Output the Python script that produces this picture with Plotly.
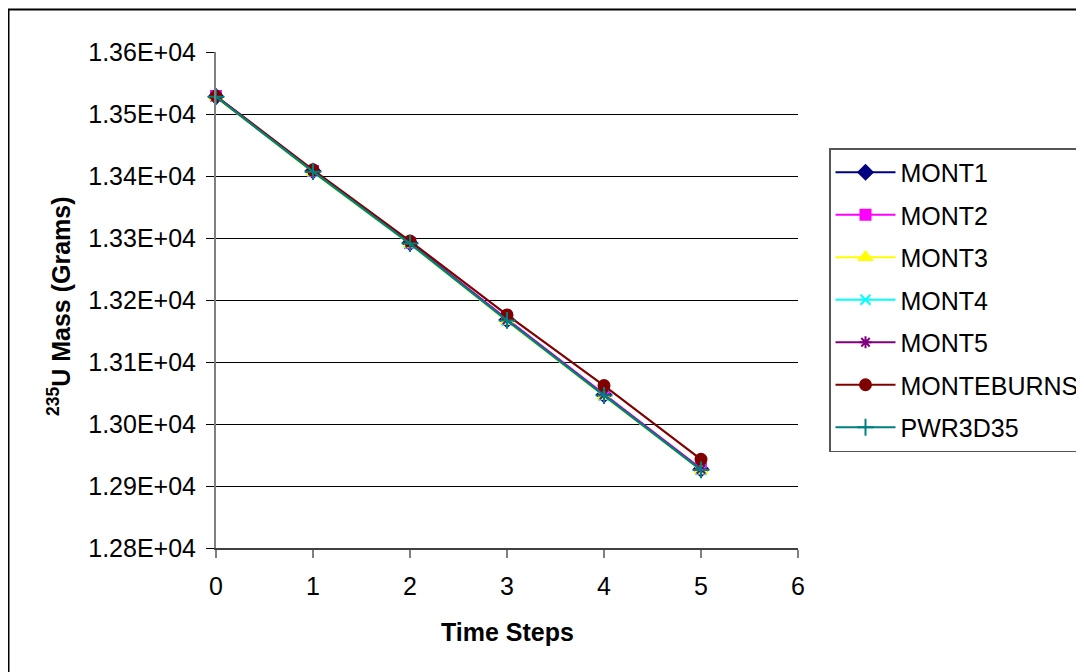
import plotly.graph_objects as go

steps = [0, 1, 2, 3, 4, 5]
mont1 = [13528, 13408, 13292, 13168, 13047, 12927]
mont2 = [13529, 13408, 13292, 13169, 13048, 12928]
mont3 = [13527, 13406, 13290, 13166, 13045, 12925]
mont4 = [13528, 13407, 13291, 13167, 13046, 12926]
mont5 = [13528, 13408, 13292, 13168, 13047, 12927]
monteburns = [13529, 13410, 13295, 13176, 13062, 12943]
pwr3d35 = [13528, 13407, 13291, 13167, 13046, 12926]

y_tickvals = [12800, 12900, 13000, 13100, 13200, 13300, 13400, 13500, 13600]
y_ticktext = ["1.28E+04", "1.29E+04", "1.30E+04", "1.31E+04", "1.32E+04",
              "1.33E+04", "1.34E+04", "1.35E+04", "1.36E+04"]
x_tickvals = [0, 1, 2, 3, 4, 5, 6]

series = [
    ("MONT1", mont1, "#000080", "diamond", 11),
    ("MONT2", mont2, "#FF00FF", "square", 10),
    ("MONT3", mont3, "#FFFF00", "triangle-up", 11),
    ("MONT4", mont4, "#00FFFF", "x-thin-open", 10),
    ("MONT5", mont5, "#800080", "asterisk-open", 10),
    ("MONTEBURNS", monteburns, "#800000", "circle", 11),
    ("PWR3D35", pwr3d35, "#008080", "cross-thin-open", 12),
]

FONT = "Liberation Sans, Arial, sans-serif"

fig = go.Figure()
for name, vals, color, sym, size in series:
    fig.add_trace(go.Scatter(
        x=steps, y=vals, name=name, mode="lines+markers",
        line=dict(color=color, width=2.2),
        marker=dict(symbol=sym, size=size, color=color,
                    line=dict(color=color, width=2)),
        cliponaxis=False, legendgroup=name,
    ))

# page has an 8px body margin; work in page pixels and shift
OFF = 8
W, H = 1084 - OFF, 672 - OFF
L, R, T, B = 216 - OFF, 798 - OFF, 52 - OFF, 548 - OFF
pw, ph = R - L, B - T

def px(x):
    return (x - OFF - L) / pw

def py(y):
    return (B - (y - OFF)) / ph

fig.update_layout(
    width=W, height=H,
    margin=dict(l=L, r=W - R, t=T, b=H - B, autoexpand=False),
    paper_bgcolor="white", plot_bgcolor="white",
    font=dict(family=FONT, color="black", size=25),
    showlegend=True,
    legend=dict(
        x=px(829), y=py(148), xanchor="left", yanchor="top",
        bgcolor="white", bordercolor="#555555", borderwidth=1.5,
        font=dict(family=FONT, size=25, color="black"),
        tracegroupgap=7, itemwidth=60, traceorder="grouped",
    ),
    xaxis=dict(
        range=[0, 6], tickvals=x_tickvals, showgrid=False, zeroline=False,
        showline=True, linecolor="#404040", linewidth=1.5,
        ticks="outside", ticklen=8, tickcolor="#808080", tickwidth=1.5,
        tickfont=dict(family=FONT, size=25, color="black"),
        ticklabelstandoff=7,
    ),
    yaxis=dict(
        range=[12800, 13600], tickvals=y_tickvals, ticktext=y_ticktext,
        showgrid=True, gridcolor="black", gridwidth=1, zeroline=False,
        showline=True, linecolor="#808080", linewidth=2,
        ticks="outside", ticklen=8, tickcolor="black", tickwidth=1,
        tickfont=dict(family=FONT, size=25, color="black"),
        ticklabelstandoff=5,
    ),
    shapes=[dict(
        type="rect", xref="paper", yref="paper",
        x0=px(8.5), x1=px(1110), y0=py(700), y1=py(9.5),
        line=dict(color="black", width=2), fillcolor="rgba(0,0,0,0)",
        layer="below",
    )],
    annotations=[
        dict(text="<b><sup>235</sup>U Mass (Grams)</b>", textangle=-90,
             xref="paper", yref="paper", x=px(59), y=py(306),
             xanchor="center", yanchor="middle", showarrow=False,
             font=dict(family=FONT, size=25, color="black")),
        dict(text="<b>Time Steps</b>",
             xref="paper", yref="paper", x=px(507), y=py(632),
             xanchor="center", yanchor="middle", showarrow=False,
             font=dict(family=FONT, size=25, color="black")),
    ],
)

fig.write_html("out.html")
